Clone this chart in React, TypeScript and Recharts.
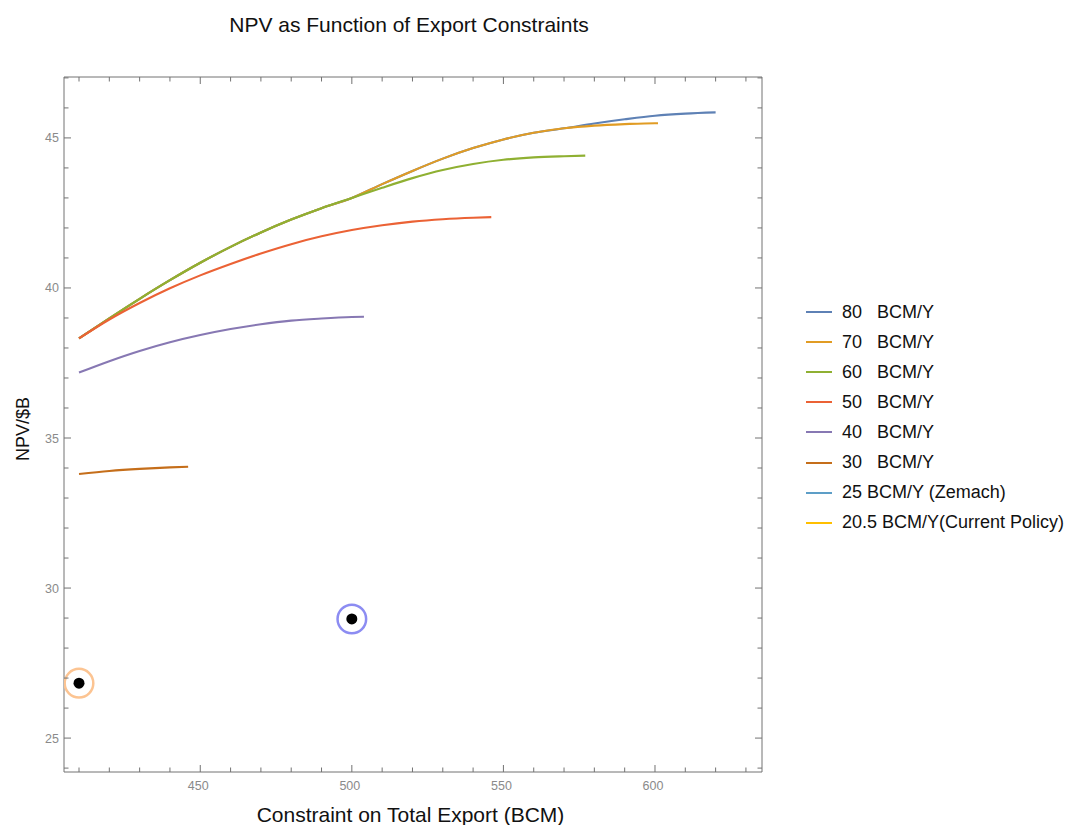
import React from 'react';
import { ComposedChart, Line, Scatter, XAxis, YAxis } from 'recharts';

// ---- data ----
const x80 = [410, 420, 430, 440, 450, 460, 470, 480, 490, 500, 510, 520, 530, 540, 550, 560, 570, 580, 590, 600, 610, 620];
const npv80 = [38.32, 38.99, 39.64, 40.26, 40.84, 41.37, 41.85, 42.28, 42.66, 43.0, 43.46, 43.9, 44.31, 44.66, 44.95, 45.17, 45.32, 45.48, 45.62, 45.74, 45.81, 45.85];

const x70 = [410, 420, 430, 440, 450, 460, 470, 480, 490, 500, 510, 520, 530, 540, 550, 560, 570, 580, 590, 600, 601];
const npv70 = [38.32, 38.99, 39.64, 40.26, 40.84, 41.37, 41.85, 42.28, 42.66, 43.0, 43.46, 43.9, 44.31, 44.66, 44.95, 45.17, 45.32, 45.41, 45.46, 45.49, 45.49];

const x60 = [410, 420, 430, 440, 450, 460, 470, 480, 490, 500, 510, 520, 530, 540, 550, 560, 570, 577];
const npv60 = [38.32, 38.99, 39.64, 40.26, 40.84, 41.37, 41.85, 42.28, 42.66, 43.0, 43.34, 43.66, 43.93, 44.13, 44.27, 44.35, 44.39, 44.41];

const x50 = [410, 420, 430, 440, 450, 460, 470, 480, 490, 500, 510, 520, 530, 540, 546];
const npv50 = [38.32, 38.95, 39.5, 39.99, 40.42, 40.8, 41.15, 41.46, 41.72, 41.93, 42.09, 42.21, 42.29, 42.34, 42.36];

const x40 = [410, 420, 430, 440, 450, 460, 470, 480, 490, 500, 504];
const npv40 = [37.18, 37.56, 37.9, 38.19, 38.43, 38.63, 38.79, 38.91, 38.98, 39.03, 39.04];

const x30 = [410, 420, 430, 440, 446];
const npv30 = [33.8, 33.9, 33.97, 34.02, 34.04];

const zemachX = [500];
const zemachNpv = [28.97];
const currentX = [410];
const currentNpv = [26.83];

const xTicks = [410, 420, 430, 440, 450, 460, 470, 480, 490, 500, 510, 520, 530, 540, 550, 560, 570, 580, 590, 600, 610, 620, 630];
const xMajor = [450, 500, 550, 600];
const yTicks = [24, 25, 26, 27, 28, 29, 30, 31, 32, 33, 34, 35, 36, 37, 38, 39, 40, 41, 42, 43, 44, 45, 46, 47];
const yMajor = [25, 30, 35, 40, 45];

const legendLabels = ['80   BCM/Y', '70   BCM/Y', '60   BCM/Y', '50   BCM/Y', '40   BCM/Y', '30   BCM/Y', '25 BCM/Y (Zemach)', '20.5 BCM/Y(Current Policy)'];
const legendColors = ['#5E81B5', '#E19C24', '#8FB032', '#EB6235', '#8778B3', '#C56E1A', '#5D9EC7', '#FFBF00'];

const zip = (xs: number[], ys: number[]) => xs.map((x, i) => ({ x, y: ys[i] }));

const seriesList = [
  { name: '80', data: zip(x80, npv80), color: legendColors[0] },
  { name: '70', data: zip(x70, npv70), color: legendColors[1] },
  { name: '60', data: zip(x60, npv60), color: legendColors[2] },
  { name: '50', data: zip(x50, npv50), color: legendColors[3] },
  { name: '40', data: zip(x40, npv40), color: legendColors[4] },
  { name: '30', data: zip(x30, npv30), color: legendColors[5] },
];

const FRAME = '#727272';
const TICKTXT = '#8a8a8a';
const FONT = '"Liberation Sans", Arial, sans-serif';
const X_DOMAIN: [number, number] = [405.05, 635.3];
const Y_DOMAIN: [number, number] = [23.87, 47.03];

// plot frame edges (set by chart margins/axis sizes below)
const P_LEFT = 64;
const P_RIGHT = 762;
const P_TOP = 77;
const P_BOTTOM = 772;

const LeftTick = (props: any) => {
  const { y, payload } = props;
  const major = yMajor.includes(payload.value);
  return (
    <g>
      <line x1={P_LEFT} x2={P_LEFT + (major ? 7 : 4.5)} y1={y} y2={y} stroke={FRAME} strokeWidth={1} />
      {major && (
        <text x={P_LEFT - 5} y={y + 4.5} textAnchor="end" fill={TICKTXT} fontSize={12.5} fontFamily={FONT}>
          {payload.value}
        </text>
      )}
    </g>
  );
};

const BottomTick = (props: any) => {
  const { x, payload } = props;
  const major = xMajor.includes(payload.value);
  return (
    <g>
      <line x1={x} x2={x} y1={P_BOTTOM} y2={P_BOTTOM - (major ? 7 : 4.5)} stroke={FRAME} strokeWidth={1} />
      {major && (
        <text x={x - 2} y={P_BOTTOM + 18} textAnchor="middle" fill={TICKTXT} fontSize={12.5} fontFamily={FONT}>
          {payload.value}
        </text>
      )}
    </g>
  );
};

const TopTick = (props: any) => {
  const { x, payload } = props;
  const major = xMajor.includes(payload.value);
  return <line x1={x} x2={x} y1={P_TOP} y2={P_TOP + (major ? 7 : 4.5)} stroke={FRAME} strokeWidth={1} />;
};

const RightTick = (props: any) => {
  const { y, payload } = props;
  const major = yMajor.includes(payload.value);
  return <line x1={P_RIGHT} x2={P_RIGHT - (major ? 7 : 4.5)} y1={y} y2={y} stroke={FRAME} strokeWidth={1} />;
};

const ringShape = (ring: string) => (props: any) => {
  const { cx, cy } = props;
  return (
    <g>
      <circle cx={cx} cy={cy} r={14.3} fill="none" stroke={ring} strokeWidth={2.5} />
      <circle cx={cx} cy={cy} r={5.5} fill="#000" />
    </g>
  );
};

export default function App() {
  return (
    <div style={{ position: 'absolute', left: 0, top: 0, width: 1066, height: 825, background: '#fff', fontFamily: FONT, overflow: 'hidden' }}>
      <div style={{ position: 'absolute', left: 0, width: 818, top: 14, textAlign: 'center', fontSize: 21, lineHeight: '21px', color: '#111' }}>
        NPV as Function of Export Constraints
      </div>
      <ComposedChart width={1066} height={825} margin={{ top: 76, right: 303, bottom: 23, left: 24 }}>
        <XAxis
          xAxisId="b"
          type="number"
          dataKey="x"
          domain={X_DOMAIN}
          allowDataOverflow
          ticks={xTicks}
          interval={0}
          height={30}
          tickSize={0}
          tickMargin={7}
          axisLine={{ stroke: FRAME }}
          tickLine={false}
          tick={<BottomTick />}
        />
        <XAxis
          xAxisId="t"
          orientation="top"
          type="number"
          dataKey="x"
          domain={X_DOMAIN}
          allowDataOverflow
          ticks={xTicks}
          interval={0}
          height={1}
          tickSize={0}
          tickMargin={0}
          axisLine={{ stroke: FRAME }}
          tickLine={false}
          tick={<TopTick />}
        />
        <YAxis
          yAxisId="l"
          type="number"
          domain={Y_DOMAIN}
          allowDataOverflow
          ticks={yTicks}
          interval={0}
          width={40}
          tickSize={0}
          tickMargin={6}
          axisLine={{ stroke: FRAME }}
          tickLine={false}
          tick={<LeftTick />}
        />
        <YAxis
          yAxisId="r"
          orientation="right"
          type="number"
          domain={Y_DOMAIN}
          allowDataOverflow
          ticks={yTicks}
          interval={0}
          width={1}
          tickSize={0}
          tickMargin={0}
          axisLine={{ stroke: FRAME }}
          tickLine={false}
          tick={<RightTick />}
        />
        {seriesList.map((s) => (
          <Line
            key={s.name}
            xAxisId="b"
            yAxisId="l"
            data={s.data}
            dataKey="y"
            type="monotone"
            stroke={s.color}
            strokeWidth={2.1}
            dot={false}
            activeDot={false}
            isAnimationActive={false}
          />
        ))}
        <Line xAxisId="t" yAxisId="r" data={zip(currentX, currentNpv)} dataKey="y" stroke="none" dot={false} activeDot={false} isAnimationActive={false} />
        <Scatter xAxisId="b" yAxisId="l" data={zip(zemachX, zemachNpv)} dataKey="y" shape={ringShape('#8C8CF2')} isAnimationActive={false} />
        <Scatter xAxisId="b" yAxisId="l" data={zip(currentX, currentNpv)} dataKey="y" shape={ringShape('#FCC492')} isAnimationActive={false} />
      </ComposedChart>
      <div style={{ position: 'absolute', left: 0, width: 821, top: 804, textAlign: 'center', fontSize: 21, lineHeight: '21px', color: '#111' }}>
        Constraint on Total Export (BCM)
      </div>
      <div
        style={{
          position: 'absolute',
          left: 23,
          top: 429,
          transform: 'translate(-50%, -50%) rotate(-90deg)',
          fontSize: 18,
          lineHeight: '18px',
          color: '#111',
          whiteSpace: 'nowrap',
        }}
      >
        NPV/$B
      </div>
      {legendLabels.map((label, i) => (
        <div key={label} style={{ position: 'absolute', left: 806, top: 302 + i * 30.1, height: 20, display: 'flex', alignItems: 'center' }}>
          <div style={{ width: 26, height: 2, background: legendColors[i] }} />
          <div style={{ marginLeft: 10, fontSize: 18, color: '#111', whiteSpace: 'pre' }}>{label}</div>
        </div>
      ))}
    </div>
  );
}
